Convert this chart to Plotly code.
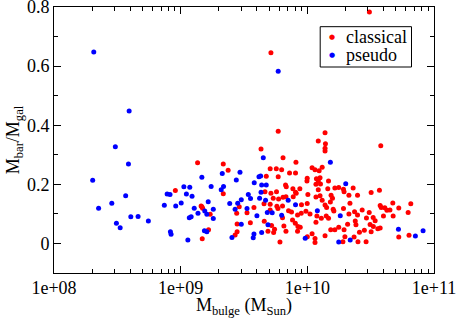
import plotly.graph_objects as go

# ---- data ----
classical_x = [
    1.36e9, 2.17e9, 2.37e9, 9.08e8, 2.17e9, 1.45e9, 1.49e9, 1.47e9, 1.71e9, 2.90e9,
    2.77e9, 2.79e9, 1.66e9, 1.48e9, 2.79e9, 2.69e9, 3.09e10, 5.16e9, 3.80e10,
    5.89e9, 4.31e9, 6.43e9, 8.13e9, 5.09e9, 5.69e9, 6.27e9, 7.24e9, 8.07e9, 4.74e9,
    5.89e9, 9.98e9, 9.93e9, 6.73e9, 6.82e9, 7.69e9, 8.73e9, 4.63e9, 5.16e9, 5.71e9,
    8.07e9, 1.01e10, 5.38e9, 5.93e9, 6.43e9, 6.78e9, 7.74e9, 8.17e9, 4.55e9, 5.09e9,
    5.75e9, 6.37e9, 8.99e9, 9.98e9, 3.79e9, 3.34e9, 5.09e9, 5.86e9, 7.11e9, 7.50e9,
    8.37e9, 8.95e9, 9.75e9, 6.37e9, 7.64e9, 3.55e9, 4.57e9, 5.22e9, 6.53e9, 8.04e9,
    8.43e9, 8.79e9, 5.51e9, 4.89e9, 5.42e9, 6.78e9, 8.37e9, 6.08e9, 1.00e10,
    1.38e10, 1.22e10, 1.39e10, 1.38e10, 1.38e10, 1.09e10, 1.15e10, 1.24e10, 1.31e10,
    1.18e10, 1.26e10, 1.22e10, 1.17e10, 1.27e10, 1.47e10, 1.22e10, 1.45e10, 1.65e10,
    1.77e10, 1.93e10, 2.30e10, 3.19e10, 1.17e10, 1.26e10, 1.95e10, 1.54e10, 2.13e10,
    2.49e10, 1.58e10, 1.31e10, 1.52e10, 2.17e10, 1.38e10, 1.42e10, 1.60e10, 1.93e10,
    1.05e10, 1.19e10, 1.29e10, 1.41e10, 1.47e10, 1.62e10, 2.13e10, 2.36e10, 2.71e10,
    2.49e10, 2.93e10, 2.39e10, 1.17e10, 3.32e10, 2.08e10, 2.42e10, 1.53e10, 1.65e10,
    1.77e10, 1.95e10, 2.58e10, 2.82e10, 1.09e10, 1.98e10, 2.34e10, 1.38e10, 1.15e10,
    1.15e10, 1.91e10, 2.51e10, 2.91e10,
    3.71e10, 3.76e10, 3.83e10, 4.09e10, 4.25e10, 4.49e10, 4.73e10, 5.27e10, 6.56e10,
    6.25e10, 3.08e10, 3.43e10, 3.99e10, 4.76e10, 3.13e10, 3.19e10, 3.60e10, 3.76e10,
    5.27e10, 6.35e10, 3.31e10,
]
classical_y = [
    0.273, 0.269, 0.248, 0.179, 0.168, 0.127, 0.119, 0.124, 0.099, 0.124,
    0.102, 0.066, 0.046, 0.016, 0.040, 0.029, 0.783, 0.645, 0.331,
    0.380, 0.320, 0.290, 0.275, 0.253, 0.253, 0.249, 0.238, 0.238, 0.227,
    0.226, 0.221, 0.211, 0.198, 0.192, 0.185, 0.185, 0.175, 0.170, 0.175,
    0.173, 0.166, 0.153, 0.150, 0.156, 0.158, 0.158, 0.170, 0.134, 0.133,
    0.126, 0.127, 0.131, 0.135, 0.122, 0.104, 0.113, 0.118, 0.111, 0.106,
    0.096, 0.102, 0.109, 0.087, 0.079, 0.070, 0.075, 0.061, 0.059, 0.068,
    0.057, 0.055, 0.048, 0.041, 0.037, 0.041, 0.041, 0.005, 0.023,
    0.375, 0.347, 0.337, 0.322, 0.313, 0.256, 0.249, 0.246, 0.258,
    0.219, 0.222, 0.212, 0.200, 0.201, 0.211, 0.182, 0.185, 0.188,
    0.189, 0.183, 0.188, 0.172, 0.157, 0.161, 0.175, 0.163, 0.163,
    0.163, 0.153, 0.146, 0.140, 0.136, 0.130, 0.122, 0.116, 0.118,
    0.100, 0.093, 0.085, 0.093, 0.085, 0.110, 0.100, 0.107, 0.113,
    0.096, 0.086, 0.076, 0.072, 0.057, 0.065, 0.063, 0.046, 0.046,
    0.055, 0.046, 0.038, 0.045, 0.033, 0.023, 0.022, 0.026, 0.017,
    0.003, 0.006, 0.006, 0.006,
    0.180, 0.128, 0.122, 0.121, 0.112, 0.113, 0.137, 0.120, 0.134,
    0.105, 0.105, 0.077, 0.093, 0.093, 0.064, 0.040, 0.050, 0.052,
    0.022, 0.028, 0.088,
]

pseudo_x = [
    2.06e8, 3.92e8, 3.05e8, 3.87e8, 2.02e8, 3.68e8, 2.86e8, 2.25e8, 4.04e8, 4.61e8,
    3.11e8, 3.33e8, 5.56e8,
    1.47e9, 2.13e9, 2.94e9, 2.75e9, 1.06e9, 1.18e9, 1.74e9, 2.18e9, 2.09e9, 7.82e8,
    8.24e8, 1.11e9, 1.23e9, 7.43e8, 9.14e8, 1.01e9, 1.65e9, 1.28e9, 1.37e9, 1.55e9,
    1.61e9, 1.81e9, 1.81e9, 2.44e9, 2.82e9, 3.01e9, 2.69e9, 1.17e9, 1.21e9, 8.30e8,
    8.40e8, 1.14e9, 1.54e9, 1.61e9, 3.01e9, 2.54e9,
    4.49e9, 3.81e9, 4.15e9, 4.28e9, 4.36e9, 4.74e9, 3.42e9, 3.56e9, 4.20e9, 4.31e9,
    4.68e9, 3.34e9, 4.00e9, 4.83e9, 5.28e9, 7.06e9, 8.07e9, 6.27e9, 4.89e9, 4.36e9,
    3.79e9, 3.74e9, 9.62e9, 5.89e9,
    1.52e10, 2.01e10, 1.20e10, 1.82e10, 1.77e10, 2.18e10,
    5.24e10, 7.13e10, 8.20e10,
]
pseudo_y = [
    0.648, 0.448, 0.327, 0.269, 0.214, 0.161, 0.136, 0.119, 0.090, 0.091,
    0.068, 0.053, 0.076,
    0.224, 0.237, 0.241, 0.215, 0.192, 0.190, 0.193, 0.193, 0.182, 0.167,
    0.166, 0.167, 0.160, 0.129, 0.127, 0.137, 0.141, 0.119, 0.102, 0.110,
    0.099, 0.116, 0.084, 0.135, 0.136, 0.148, 0.116, 0.087, 0.090, 0.040,
    0.031, 0.012, 0.043, 0.040, 0.065, 0.020,
    0.290, 0.205, 0.226, 0.228, 0.198, 0.198, 0.166, 0.152, 0.153, 0.173,
    0.146, 0.118, 0.094, 0.105, 0.104, 0.146, 0.131, 0.095, 0.063, 0.037,
    0.032, 0.019, 0.018, 0.583,
    0.275, 0.202, 0.111, 0.094, 0.005, 0.012,
    0.048, 0.025, 0.043,
]

series_names = ["classical", "pseudo"]
series_colors = ["#ff0000", "#0000ff"]

x_tickvals = [1e8, 1e9, 1e10, 1e11]
x_ticktext = ["1e+08", "1e+09", "1e+10", "1e+11"]
y_tickvals = [0, 0.2, 0.4, 0.6, 0.8]
y_ticktext = ["0", "0.2", "0.4", "0.6", "0.8"]

FONT = "Liberation Serif"

fig = go.Figure()
for name, color, xs, ys in zip(series_names, series_colors,
                               [classical_x, pseudo_x], [classical_y, pseudo_y]):
    fig.add_trace(go.Scatter(x=xs, y=ys, mode="markers", name=name, showlegend=False,
                             marker=dict(color=color, size=5, line=dict(width=0))))

axis_common = dict(
    showline=True, linecolor="black", linewidth=1, mirror="ticks",
    ticks="inside", ticklen=7, tickcolor="black", tickwidth=1,
    showgrid=False, zeroline=False, ticklabeloverflow="allow",
    tickfont=dict(family=FONT, size=18, color="black"),
)

fig.update_xaxes(
    type="log", range=[8, 11.0001],
    tickmode="array", tickvals=x_tickvals, ticktext=x_ticktext,
    minor=dict(ticks="inside", ticklen=4, tickcolor="black", dtick="D1", showgrid=False),
    title=dict(text="M<sub>bulge</sub> (M<sub>Sun</sub>)", font=dict(family=FONT, size=18, color="black"),
               standoff=0),
    ticklabelstandoff=-2,
    **axis_common,
)
fig.update_yaxes(
    range=[-0.1, 0.8001],
    tickmode="array", tickvals=y_tickvals, ticktext=y_ticktext,
    minor=dict(ticks="inside", ticklen=4, tickcolor="black", dtick=0.1, showgrid=False),
    title=dict(text="M<sub>bar</sub>/M<sub>gal</sub>", font=dict(family=FONT, size=18, color="black"),
               standoff=2),
    **axis_common,
)

# legend box drawn in paper coordinates
leg_x0, leg_x1, leg_y0, leg_y1 = 0.7005, 0.9408, 0.7744, 0.926
fig.add_shape(type="rect", xref="paper", yref="paper",
              x0=leg_x0, x1=leg_x1, y0=leg_y0, y1=leg_y1,
              line=dict(color="black", width=1), fillcolor="white", layer="above")
leg_rows = [0.888, 0.818]
for name, color, yy in zip(series_names, series_colors, leg_rows):
    fig.add_annotation(xref="paper", yref="paper", x=0.731, y=yy, text="●",
                       showarrow=False, xanchor="center", yanchor="middle",
                       font=dict(family="DejaVu Sans", size=7, color=color))
    fig.add_annotation(xref="paper", yref="paper", x=0.762, y=yy, text=name,
                       showarrow=False, xanchor="left", yanchor="middle",
                       font=dict(family=FONT, size=18, color="black"))

fig.update_layout(
    width=458, height=318,
    margin=dict(l=54, r=24, t=7, b=45, autoexpand=False),
    paper_bgcolor="white", plot_bgcolor="white",
    showlegend=False,
)

fig.write_html("out.html", config={"displayModeBar": False},
               post_script="document.body.style.margin='0';")
